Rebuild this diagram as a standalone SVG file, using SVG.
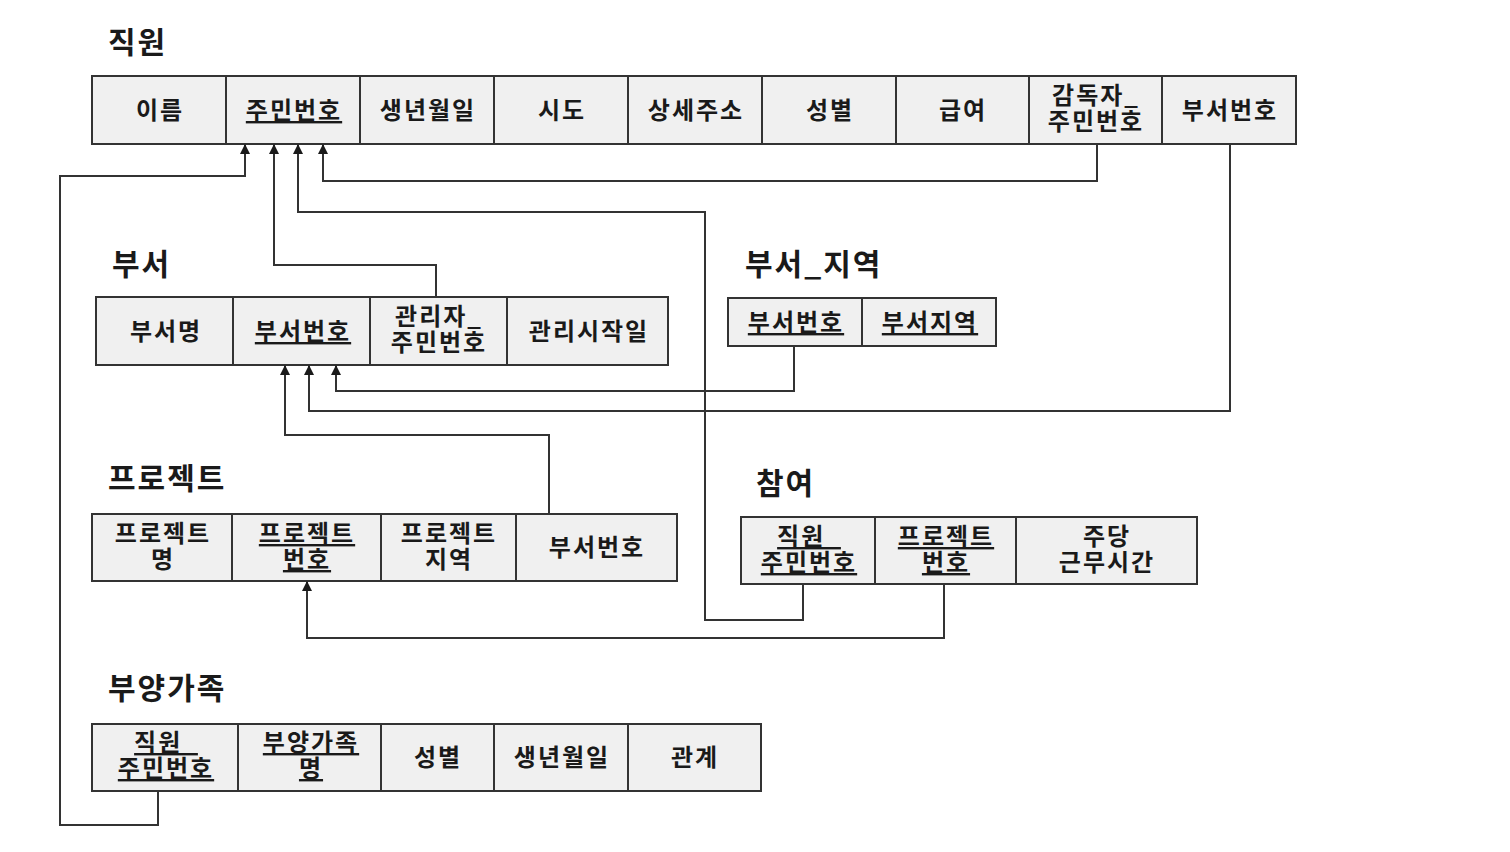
<svg xmlns="http://www.w3.org/2000/svg" width="1510" height="852" viewBox="0 0 1510 852">
<style>
.bg{fill:#ffffff}
.cell{fill:#f0f0f0;stroke:#333;stroke-width:2}
.t{font-family:"Noto Sans CJK KR","Noto Sans",sans-serif;font-size:24px;font-weight:bold;letter-spacing:2px;fill:#1a1a1a;text-anchor:middle}
.u{text-decoration:underline}
.title{font-family:"Noto Sans CJK KR","Noto Sans",sans-serif;font-size:30px;font-weight:bold;letter-spacing:2px;fill:#1a1a1a}
.c{fill:none;stroke:#333;stroke-width:2}
</style>
<defs>
<marker id="ah" viewBox="0 0 10 10" refX="9" refY="5" markerWidth="10" markerHeight="10" markerUnits="userSpaceOnUse" orient="auto">
<path d="M0,0 L10,5 L0,10 z" fill="#1a1a1a"/>
</marker>
</defs>
<rect class="bg" x="0" y="0" width="1510" height="852"/>

<g id="직원">
<text class="title" x="108" y="53">직원</text>
<rect class="cell" x="92" y="76" width="134" height="68"/>
<rect class="cell" x="226" y="76" width="134" height="68"/>
<rect class="cell" x="360" y="76" width="134" height="68"/>
<rect class="cell" x="494" y="76" width="134" height="68"/>
<rect class="cell" x="628" y="76" width="134" height="68"/>
<rect class="cell" x="762" y="76" width="134" height="68"/>
<rect class="cell" x="896" y="76" width="133" height="68"/>
<rect class="cell" x="1029" y="76" width="133" height="68"/>
<rect class="cell" x="1162" y="76" width="134" height="68"/>
<text class="t" x="160" y="119">이름</text>
<text class="t u" x="294" y="119">주민번호</text>
<text class="t" x="428" y="119">생년월일</text>
<text class="t" x="562" y="119">시도</text>
<text class="t" x="696" y="119">상세주소</text>
<text class="t" x="830" y="119">성별</text>
<text class="t" x="963" y="119">급여</text>
<text class="t"><tspan x="1096" y="104">감독자_</tspan><tspan x="1096" y="130">주민번호</tspan></text>
<text class="t" x="1230" y="119">부서번호</text>
</g>

<g id="부서">
<text class="title" x="112" y="275">부서</text>
<rect class="cell" x="96" y="297" width="137" height="68"/>
<rect class="cell" x="233" y="297" width="137" height="68"/>
<rect class="cell" x="370" y="297" width="137" height="68"/>
<rect class="cell" x="507" y="297" width="161" height="68"/>
<text class="t" x="166" y="340">부서명</text>
<text class="t u" x="303" y="340">부서번호</text>
<text class="t"><tspan x="439" y="325">관리자_</tspan><tspan x="439" y="351">주민번호</tspan></text>
<text class="t" x="589" y="340">관리시작일</text>
</g>

<g id="부서_지역">
<text class="title" x="745" y="275">부서_지역</text>
<rect class="cell" x="728" y="298" width="134" height="48"/>
<rect class="cell" x="862" y="298" width="134" height="48"/>
<text class="t u" x="796" y="331">부서번호</text>
<text class="t u" x="930" y="331">부서지역</text>
</g>

<g id="프로젝트">
<text class="title" x="108" y="489">프로젝트</text>
<rect class="cell" x="92" y="514" width="140" height="67"/>
<rect class="cell" x="232" y="514" width="149" height="67"/>
<rect class="cell" x="381" y="514" width="135" height="67"/>
<rect class="cell" x="516" y="514" width="161" height="67"/>
<text class="t"><tspan x="163" y="542">프로젝트</tspan><tspan x="163" y="568">명</tspan></text>
<text class="t u"><tspan x="307" y="542">프로젝트</tspan><tspan x="307" y="568">번호</tspan></text>
<text class="t"><tspan x="449" y="542">프로젝트</tspan><tspan x="449" y="568">지역</tspan></text>
<text class="t" x="597" y="556">부서번호</text>
</g>

<g id="참여">
<text class="title" x="756" y="494">참여</text>
<rect class="cell" x="741" y="517" width="134" height="67"/>
<rect class="cell" x="875" y="517" width="141" height="67"/>
<rect class="cell" x="1016" y="517" width="181" height="67"/>
<text class="t u"><tspan x="809" y="545">직원_</tspan><tspan x="809" y="571">주민번호</tspan></text>
<text class="t u"><tspan x="946" y="545">프로젝트</tspan><tspan x="946" y="571">번호</tspan></text>
<text class="t"><tspan x="1107" y="545">주당</tspan><tspan x="1107" y="571">근무시간</tspan></text>
</g>

<g id="부양가족">
<text class="title" x="108" y="699">부양가족</text>
<rect class="cell" x="92" y="724" width="146" height="67"/>
<rect class="cell" x="238" y="724" width="143" height="67"/>
<rect class="cell" x="381" y="724" width="113" height="67"/>
<rect class="cell" x="494" y="724" width="134" height="67"/>
<rect class="cell" x="628" y="724" width="133" height="67"/>
<text class="t u"><tspan x="166" y="751">직원_</tspan><tspan x="166" y="777">주민번호</tspan></text>
<text class="t u"><tspan x="311" y="751">부양가족</tspan><tspan x="311" y="777">명</tspan></text>
<text class="t" x="438" y="766">성별</text>
<text class="t" x="562" y="766">생년월일</text>
<text class="t" x="695" y="766">관계</text>
</g>

<g id="connectors">
<path class="c" d="M158,791 V825 H60 V176 H245 V145" marker-end="url(#ah)"/>
<path class="c" d="M436,297 V265 H274 V145" marker-end="url(#ah)"/>
<path class="c" d="M803,584 V620 H705 V212 H298 V145" marker-end="url(#ah)"/>
<path class="c" d="M1097,144 V181 H323 V145" marker-end="url(#ah)"/>
<path class="c" d="M794,346 V391 H336 V366" marker-end="url(#ah)"/>
<path class="c" d="M1230,144 V411 H309 V366" marker-end="url(#ah)"/>
<path class="c" d="M549,514 V435 H285 V366" marker-end="url(#ah)"/>
<path class="c" d="M944,584 V638 H307 V582" marker-end="url(#ah)"/>
</g>
</svg>
